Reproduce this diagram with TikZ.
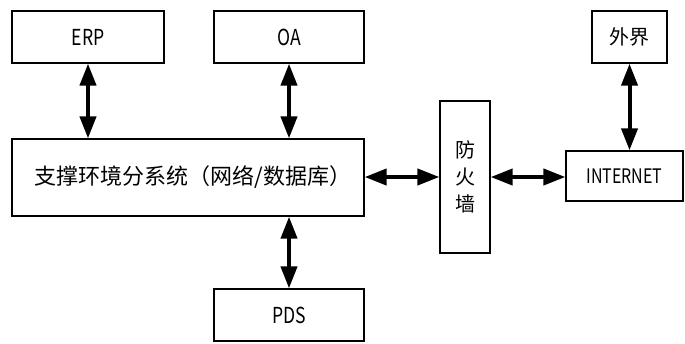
\documentclass[tikz,border=0pt]{standalone}
\usepackage{fontspec}
\setmainfont{Noto Sans CJK SC}
\newfontfamily\narrowlatin[FakeStretch=0.8]{Noto Sans CJK SC}
\usetikzlibrary{arrows.meta}
\begin{document}
\begin{tikzpicture}[x=1pt,y=-1pt,
  box/.style={draw,line width=1.3pt,inner sep=0pt},
  latin/.style={font=\narrowlatin\fontsize{22}{24}\selectfont},
  link/.style={line width=4pt,{Triangle[length=22pt,width=16pt]}-{Triangle[length=22pt,width=16pt]}}]
\useasboundingbox (0,0) rectangle (685,343);
\node[box,latin,minimum width=152pt,minimum height=52pt] (erp) at (88,37) {ERP};
\node[box,latin,minimum width=150pt,minimum height=52pt] (oa) at (289,37) {OA};
\node[box,minimum width=75pt,minimum height=52pt,font=\fontsize{20}{22}\selectfont] (wj) at (629.5,37) {外界};
\node[box,minimum width=352pt,minimum height=77pt,font=\fontsize{22}{24}\selectfont] (main) at (188,177.5) {\hspace*{10pt}支撑环境分系统（网络/数据库）};
\node[box,minimum width=50pt,minimum height=152pt,align=center,font=\fontsize{20}{27}\selectfont] (fw) at (465,177) {防\\火\\墙};
\node[box,latin,minimum width=117pt,minimum height=50pt,font=\narrowlatin\fontsize{20}{22}\selectfont] (inet) at (624.5,176) {INTERNET};
\node[box,latin,minimum width=150pt,minimum height=52pt] (pds) at (289,315) {PDS};
\draw[link] (erp.south) -- (erp.south |- main.north);
\draw[link] (oa.south) -- (oa.south |- main.north);
\draw[link] (main.south -| pds.north) -- (pds.north);
\draw[link] (main.east |- fw.west) -- (fw.west);
\draw[link] (fw.east) -- (inet.west |- fw.east);
\draw[link] (wj.south) -- (wj.south |- inet.north);
\end{tikzpicture}
\end{document}
